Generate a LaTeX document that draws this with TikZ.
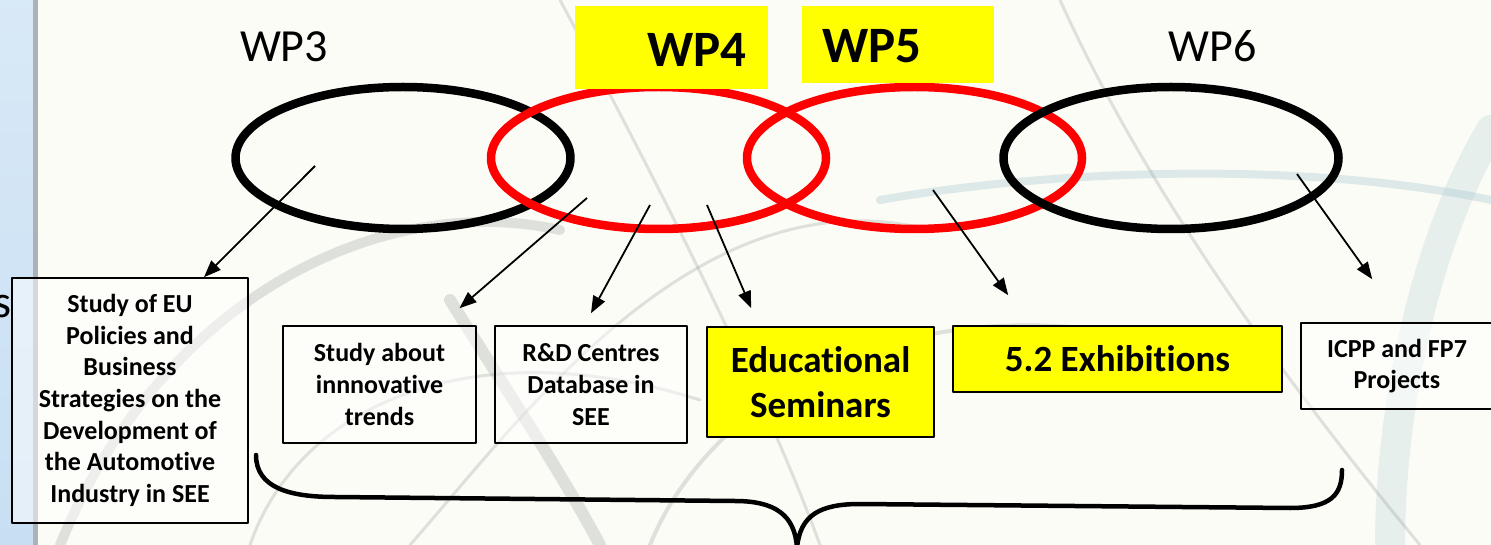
\documentclass[tikz,border=0pt]{standalone}
\usepackage{fontspec}
\setmainfont{Carlito}[Ligatures={NoCommon}]
\usetikzlibrary{arrows.meta,shapes.geometric}

\definecolor{slidebg}{RGB}{252,252,246}
\definecolor{stripblue}{RGB}{200,223,243}
\definecolor{stripedge}{RGB}{172,178,184}
\definecolor{tagyellow}{RGB}{255,255,0}
\definecolor{ringred}{RGB}{255,0,0}
\definecolor{swirlgray}{RGB}{150,160,158}
\definecolor{swirlteal}{RGB}{150,190,200}

\begin{document}
\begin{tikzpicture}[
            x = 1pt, y = -1pt, % one unit per pixel, y runs downwards
            > = {Triangle[length=17pt,width=13pt]}, % arrow head style
            line join = round
        ]

        \tikzstyle{ring}=[
            draw = black,
            ellipse,
            line width = 8.5pt,
            minimum width = 335pt,
            minimum height = 142pt,
            inner sep = 0pt
        ]
        \tikzstyle{tag}=[fill = tagyellow, inner sep = 0pt]
        \tikzstyle{wp}=[inner sep = 0pt, font = \fontsize{46}{55}\selectfont]
        \tikzstyle{wp bold}=[inner sep = 0pt, font = \bfseries\fontsize{51}{60}\selectfont]
        \tikzstyle{task}=[
            draw = black,
            line width = 1.6pt,
            fill = white,
            fill opacity = 0.5,
            text opacity = 1,
            align = center,
            inner sep = 0pt,
            font = \bfseries\fontsize{26}{31.7}\selectfont
        ]
        \tikzstyle{hot task}=[task, fill = tagyellow, fill opacity = 1,
            font = \bfseries\fontsize{37}{45}\selectfont]
        \tikzstyle{link}=[->, line width = 1.8pt]
        \tikzstyle{swirl}=[draw = swirlgray, opacity = 0.3, line cap = round]

        \useasboundingbox (0,0) rectangle (1491,545);

        % slide background
        \fill[slidebg] (0,0) rectangle (1491,545);
        \draw[swirl, line width = 10pt] (60,545) .. controls (160,300) and (380,190) .. (560,230);
        \draw[swirl, line width = 3pt] (410,545) .. controls (520,420) and (700,170) .. (930,230);
        \draw[swirl, draw = swirlteal, line width = 8pt] (880,200) .. controls (1050,170) and (1300,160) .. (1491,200);
        \draw[swirl, draw = swirlteal, opacity = 0.2, line width = 30pt] (1491,130) .. controls (1420,250) and (1390,420) .. (1390,545);
        \draw[swirl, line width = 3pt] (1060,0) .. controls (1150,200) and (1300,400) .. (1420,545);
        \draw[swirl, line width = 3pt] (560,0) .. controls (640,150) and (760,380) .. (820,545);
        \draw[swirl, line width = 4pt] (650,545) .. controls (700,420) and (860,300) .. (1100,330);
        \draw[swirl, line width = 3pt] (250,545) .. controls (300,400) and (480,330) .. (700,400);
        \draw[swirl, line width = 12pt] (450,300) .. controls (500,380) and (560,470) .. (600,545);

        % blue strip on the left
        \fill[top color = stripblue!70, bottom color = stripblue] (0,0) rectangle (33,545);
        \fill[stripedge] (33,0) rectangle (38,545);
        \node[wp, anchor = base east] (cut) at (12,318) {s};

        % work package rings
        \node[ring] (ring3) at (403,158) {};
        \node[ring, draw = ringred] (ring4) at (658.5,158) {};
        \node[ring, draw = ringred] (ring5) at (914.5,158) {};
        \node[ring] (ring6) at (1171,158) {};

        % work package labels
        \node[tag, minimum width = 193pt, minimum height = 83pt] (tag4) at (671.5,47.5) {};
        \node[tag, minimum width = 192pt, minimum height = 77pt] (tag5) at (898,44.5) {};
        \node[wp] (wp3) at (284,46.5) {WP3};
        \node[wp bold] (wp4) at (697,49.5) {WP4};
        \node[wp bold] (wp5) at (872,46) {WP5};
        \node[wp] (wp6) at (1212.5,46.5) {WP6};

        % outputs
        \node[task, minimum width = 236pt, minimum height = 245pt] (study) at (130,400.5)
            {Study of EU\\Policies and\\Business\\Strategies on the\\Development of\\the Automotive\\Industry in SEE};
        \node[task, minimum width = 193pt, minimum height = 117pt] (trends) at (379.5,384.5)
            {Study about\\innnovative\\trends};
        \node[task, minimum width = 192pt, minimum height = 117pt] (centres) at (591,384.5)
            {R\&D Centres\\Database in\\SEE};
        \node[hot task, minimum width = 227pt, minimum height = 110pt] (seminars) at (820.5,382)
            {Educational\\Seminars};
        \node[hot task, minimum width = 329pt, minimum height = 66pt] (exhib) at (1117.5,359)
            {5.2 Exhibitions};
        \node[task, minimum width = 192pt, minimum height = 86pt] (icpp) at (1397,366)
            {ICPP and FP7\\Projects};

        % arrow tails inside the rings
        \coordinate (from3) at (315,166);
        \coordinate (from4a) at (587,198);
        \coordinate (from4b) at (650,205);
        \coordinate (from4c) at (707,205);
        \coordinate (from5) at (933,190);
        \coordinate (from6) at (1297,174);

        \draw[link] (from3) -- ([xshift=74pt]study.north);
        \draw[link] (from4a) -- ([xshift=80pt,yshift=17pt]trends.north);
        \draw[link] (from4b) -- ([yshift=12pt]centres.north);
        \draw[link] (from4c) -- ([xshift=45pt,yshift=18pt]seminars.north west);
        \draw[link] (from5) -- ([xshift=56pt,yshift=30pt]exhib.north west);
        \draw[link] (from6) -- ([xshift=72pt,yshift=43pt]icpp.north west);

        % brace under the outputs
        \draw[line width = 4.5pt, line cap = round]
            (256,455) .. controls (256,488) and (290,497) .. (335,497)
            -- (735,501) .. controls (775,501) and (795,515) .. (797,548)
            .. controls (800,515) and (820,504) .. (860,504)
            -- (1290,508) .. controls (1332,508) and (1342,494) .. (1342,470);

    \end{tikzpicture}
\end{document}
